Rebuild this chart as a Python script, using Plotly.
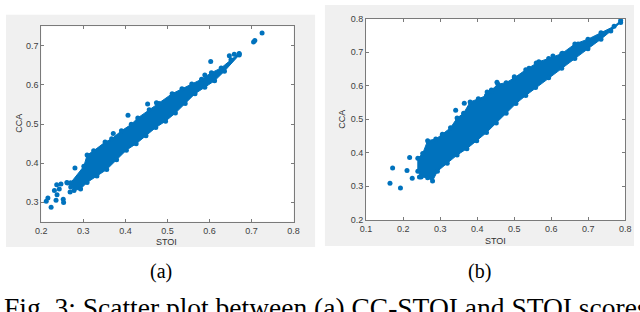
import plotly.graph_objects as go

# ---------------- data ----------------
# Panel (a): outline of the dense band (STOI, CCA)
a_band_stoi = [0.270, 0.3011, 0.3089, 0.3245, 0.3517, 0.3673, 0.3906, 0.414, 0.4295, 0.4567,
               0.480, 0.5112, 0.5346, 0.5579, 0.5812, 0.6046, 0.6279, 0.6512, 0.6707,
               0.6707, 0.6357, 0.6123, 0.589, 0.5657, 0.5423, 0.519, 0.4956, 0.4723, 0.449,
               0.4256, 0.4023, 0.379, 0.3556, 0.3323, 0.3089, 0.2934, 0.2778]
a_band_cca = [0.350, 0.392, 0.4208, 0.4316, 0.4538, 0.4621, 0.4827, 0.4992, 0.5157, 0.5363,
              0.5528, 0.5776, 0.590, 0.6023, 0.6147, 0.6312, 0.6436, 0.6642, 0.6807,
              0.6766, 0.6353, 0.6106, 0.5941, 0.5776, 0.5528, 0.5281, 0.5074, 0.4910, 0.4703,
              0.4497, 0.4332, 0.4085, 0.3837, 0.3672, 0.3507, 0.3342, 0.3301]
# Panel (a): isolated points
a_pts_stoi = [0.2117, 0.2156, 0.2233, 0.2311, 0.2374, 0.235, 0.2427, 0.2521, 0.253, 0.2467,
              0.2623, 0.2684, 0.280, 0.270, 0.2607, 0.2366, 0.3712, 0.4062, 0.4529, 0.4739,
              0.589, 0.603, 0.6473, 0.659, 0.6707, 0.705, 0.708, 0.7252]
a_pts_cca = [0.3028, 0.3112, 0.2872, 0.330, 0.3194, 0.3052, 0.3342, 0.3077, 0.2996, 0.3466,
             0.349, 0.326, 0.3879, 0.339, 0.3507, 0.3449, 0.4761, 0.5223, 0.5512, 0.5545,
             0.6254, 0.660, 0.6749, 0.6782, 0.679, 0.7100, 0.7137, 0.7327]

# Panel (b): outline of the dense band
b_band_stoi = [0.2397, 0.2529, 0.2662, 0.2883, 0.306, 0.3281, 0.3458, 0.3634, 0.3811, 0.4032,
               0.4253, 0.4386, 0.4562, 0.4784, 0.5005, 0.5314, 0.5668, 0.5933, 0.6286, 0.664,
               0.6994, 0.7347, 0.7701, 0.7878,
               0.7878, 0.7612, 0.7347, 0.6994, 0.664, 0.6286, 0.5933, 0.5579, 0.5314, 0.5049,
               0.4784, 0.4518, 0.4253, 0.3988, 0.3723, 0.3458, 0.3192, 0.2927, 0.2795, 0.2662,
               0.2485, 0.2397]
b_band_cca = [0.3834, 0.3978, 0.4362, 0.441, 0.4554, 0.4746, 0.5034, 0.5178, 0.5514, 0.561,
              0.5706, 0.5869, 0.6042, 0.609, 0.6234, 0.6474, 0.6714, 0.681, 0.6954, 0.7242,
              0.7386, 0.7578, 0.777, 0.7942,
              0.7885, 0.7626, 0.7386, 0.7098, 0.681, 0.6522, 0.6234, 0.5946, 0.5706, 0.5466,
              0.5178, 0.489, 0.4602, 0.4362, 0.4122, 0.393, 0.369, 0.345, 0.3162, 0.3258,
              0.3277, 0.345]
# Panel (b): isolated points
b_pts_stoi = [0.1645, 0.1716, 0.1928, 0.2105, 0.2246, 0.2176, 0.2441, 0.342, 0.3652, 0.427,
              0.4386, 0.4536, 0.5005, 0.5402, 0.5597, 0.6048, 0.6304, 0.6728]
b_pts_cca = [0.3094, 0.3546, 0.295, 0.3469, 0.3238, 0.3862, 0.3277, 0.5264, 0.5475, 0.581,
             0.583, 0.610, 0.6262, 0.6522, 0.6675, 0.6886, 0.6963, 0.7242]

a_xticks = [0.2, 0.3, 0.4, 0.5, 0.6, 0.7, 0.8]
a_yticks = [0.3, 0.4, 0.5, 0.6, 0.7]
b_xticks = [0.1, 0.2, 0.3, 0.4, 0.5, 0.6, 0.7, 0.8]
b_yticks = [0.2, 0.3, 0.4, 0.5, 0.6, 0.7, 0.8]

x_title = "STOI"
y_title = "CCA"
panel_labels = ["(a)", "(b)"]
caption = "Fig. 3: Scatter plot between (a) CC-STOI and STOI scores"

# ---------------- styling ----------------
W, H = 640, 312
BLUE = "#0072BD"
GREY_BG = "#F0F0F0"
AXIS = "#7a7a7a"
TICKFONT = dict(family="Liberation Sans, Arial, sans-serif", size=9, color="#404040")

def px_x(p):
    return p / W

def px_y(p):
    return 1 - p / H

# plot-area pixel boxes (left, top, right, bottom)
box_a = (36, 22, 293, 224)
box_b = (367, 14, 631, 222)
# grey figure panels
panel_a = (0, 10, 315, 250)
panel_b = (325, 0, 640, 249)

fig = go.Figure()

for band_x, band_y, pts_x, pts_y, xa, ya in [
    (a_band_stoi, a_band_cca, a_pts_stoi, a_pts_cca, "x", "y"),
    (b_band_stoi, b_band_cca, b_pts_stoi, b_pts_cca, "x2", "y2"),
]:
    fig.add_trace(go.Scatter(
        x=band_x + band_x[:1], y=band_y + band_y[:1], mode="lines", fill="toself",
        fillcolor=BLUE, line=dict(color=BLUE, width=1), xaxis=xa, yaxis=ya,
        hoverinfo="skip", showlegend=False))
    fig.add_trace(go.Scatter(
        x=band_x + pts_x, y=band_y + pts_y, mode="markers",
        marker=dict(color=BLUE, size=5, line=dict(width=0)),
        xaxis=xa, yaxis=ya, showlegend=False, cliponaxis=False))

shapes = []
for (l, t, r, b) in (panel_a, panel_b):
    shapes.append(dict(type="rect", xref="paper", yref="paper",
                       x0=px_x(l), x1=px_x(r), y0=px_y(b), y1=px_y(t),
                       fillcolor=GREY_BG, line=dict(width=0), layer="below"))
for (l, t, r, b) in (box_a, box_b):
    shapes.append(dict(type="rect", xref="paper", yref="paper",
                       x0=px_x(l), x1=px_x(r), y0=px_y(b), y1=px_y(t),
                       fillcolor="white", line=dict(width=0), layer="below"))

axis_common = dict(showline=True, linecolor=AXIS, linewidth=1, mirror="ticks",
                   ticks="inside", ticklen=3, tickcolor=AXIS, tickwidth=1,
                   showgrid=False, zeroline=False, tickfont=TICKFONT, fixedrange=True)

fig.update_layout(
    width=W, height=H,
    margin=dict(l=0, r=0, t=0, b=0),
    paper_bgcolor="white", plot_bgcolor="rgba(0,0,0,0)",
    hovermode=False,
    shapes=shapes,
    xaxis=dict(domain=[px_x(box_a[0]), px_x(box_a[2])], range=[0.2, 0.8],
               tickvals=a_xticks, anchor="y", **axis_common),
    yaxis=dict(domain=[px_y(box_a[3]), px_y(box_a[1])], range=[0.25, 0.75],
               tickvals=a_yticks, anchor="x", **axis_common),
    xaxis2=dict(domain=[px_x(box_b[0]), px_x(box_b[2])], range=[0.1, 0.8],
                tickvals=b_xticks, anchor="y2", **axis_common),
    yaxis2=dict(domain=[px_y(box_b[3]), px_y(box_b[1])], range=[0.2, 0.8],
                tickvals=b_yticks, anchor="x2", **axis_common),
)

ann = []
title_font = dict(family="Liberation Sans, Arial, sans-serif", size=9, color="#303030")
# axis titles
ann.append(dict(text=x_title, x=px_x(164), y=px_y(245), xref="paper", yref="paper",
                showarrow=False, font=title_font, xanchor="center", yanchor="middle"))
ann.append(dict(text=y_title, x=px_x(13), y=px_y(122), xref="paper", yref="paper",
                showarrow=False, font=title_font, textangle=-90,
                xanchor="center", yanchor="middle"))
ann.append(dict(text=x_title, x=px_x(499), y=px_y(244), xref="paper", yref="paper",
                showarrow=False, font=title_font, xanchor="center", yanchor="middle"))
ann.append(dict(text=y_title, x=px_x(343), y=px_y(118), xref="paper", yref="paper",
                showarrow=False, font=title_font, textangle=-90,
                xanchor="center", yanchor="middle"))
serif = "Liberation Serif, Times New Roman, serif"
ann.append(dict(text=panel_labels[0], x=px_x(158), y=px_y(275), xref="paper", yref="paper",
                showarrow=False, font=dict(family=serif, size=20, color="black"),
                xanchor="center", yanchor="middle"))
ann.append(dict(text=panel_labels[1], x=px_x(483), y=px_y(275), xref="paper", yref="paper",
                showarrow=False, font=dict(family=serif, size=20, color="black"),
                xanchor="center", yanchor="middle"))
ann.append(dict(text=caption, x=px_x(-4), y=px_y(312), xref="paper", yref="paper",
                showarrow=False, font=dict(family=serif, size=27.5, color="black"),
                xanchor="left", yanchor="middle"))
fig.update_layout(annotations=ann)

fig.write_html(
    "out.html",
    config={"displayModeBar": False, "staticPlot": True},
    post_script="document.body.style.margin='0';document.body.style.overflow='hidden';",
)
